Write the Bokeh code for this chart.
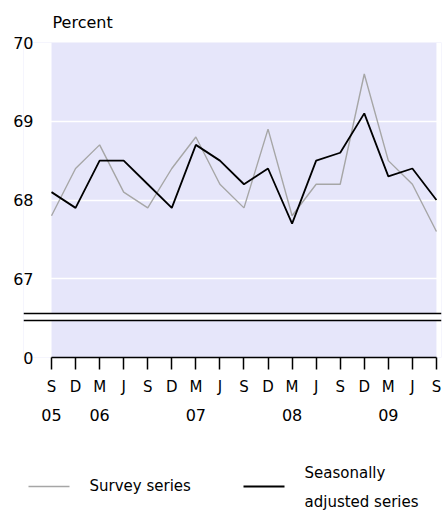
from bokeh.plotting import figure
from bokeh.layouts import column
from bokeh.models import FixedTicker, LinearAxis, Span, Range1d, BoxAnnotation
from bokeh.core.properties import value
from bokeh.embed import file_html
from bokeh.resources import INLINE

# ---- data ----
month_labels = ["S", "D", "M", "J", "S", "D", "M", "J", "S", "D", "M", "J", "S", "D", "M", "J", "S"]
year_ticks = [0, 2, 6, 10, 14]
year_labels = ["05", "06", "07", "08", "09"]
survey = [67.8, 68.4, 68.7, 68.1, 67.9, 68.4, 68.8, 68.2, 67.9, 68.9, 67.8, 68.2, 68.2, 69.6, 68.5, 68.2, 67.6]
seasonal = [68.1, 67.9, 68.5, 68.5, 68.2, 67.9, 68.7, 68.5, 68.2, 68.4, 67.7, 68.5, 68.6, 69.1, 68.3, 68.4, 68.0]
y_ticks = [66, 67, 68, 69, 70]
y_tick_labels = ["0", "67", "68", "69", "70"]
grid_values = [67, 68, 69]
break_low, break_high = 66.47, 66.56
series_names = ["Survey series", "Seasonally\nadjusted series"]

x = list(range(len(month_labels)))
FONT = "DejaVu Sans"
LAV = "#E6E6FA"
GRAY = "#A6A6A6"
colors = [GRAY, "black"]
widths = [1.4, 1.8]
BORDER_L, BORDER_R, W = 23, 3, 444

p = figure(width=W, height=430, output_backend="svg", toolbar_location=None,
           x_range=Range1d(-1.164, x[-1] + 0.21), y_range=Range1d(66.0, 70.0),
           min_border_left=BORDER_L, min_border_right=BORDER_R, min_border_top=41, min_border_bottom=73,
           background_fill_color=LAV, border_fill_color="white", outline_line_color=None)

p.title.text = "Percent"
p.title.text_font = FONT
p.title.text_font_size = "16px"
p.title.text_font_style = "normal"
p.title.text_color = "black"
p.title.align = "left"
p.title.offset = 29
p.title.standoff = 21

# white strips outside the data area
p.add_layout(BoxAnnotation(right=x[0], fill_color="white", fill_alpha=1, line_color=None, level="underlay"))
p.add_layout(BoxAnnotation(left=x[-1], fill_color="white", fill_alpha=1, line_color=None, level="underlay"))

p.xgrid.visible = False
p.ygrid.ticker = FixedTicker(ticks=grid_values)
p.ygrid.grid_line_color = "white"
p.ygrid.grid_line_width = 1.5

# axis break
p.add_layout(BoxAnnotation(bottom=break_low, top=break_high, fill_color="white", fill_alpha=1, line_color=None))
p.add_layout(Span(location=break_low, dimension="width", line_color="black", line_width=1.5))
p.add_layout(Span(location=break_high, dimension="width", line_color="black", line_width=1.5))

p.line(x, survey, line_color=colors[0], line_width=widths[0])
p.line(x, seasonal, line_color=colors[1], line_width=widths[1])

# y axis
ya = p.yaxis[0]
ya.ticker = FixedTicker(ticks=y_ticks)
ya.major_label_overrides = {t: l for t, l in zip(y_ticks, y_tick_labels)}
ya.axis_line_color = None
ya.major_tick_line_color = None
ya.minor_tick_line_color = None
ya.major_tick_out = 0
ya.major_tick_in = 0
ya.major_label_standoff = -10
ya.major_label_text_font = FONT
ya.major_label_text_font_size = "16px"
ya.major_label_text_color = "black"

# x axis (months)
xa = p.xaxis[0]
xa.ticker = FixedTicker(ticks=x)
xa.major_label_overrides = {t: l for t, l in zip(x, month_labels)}
xa.bounds = (x[0], x[-1])
xa.axis_line_color = "black"
xa.axis_line_width = 1.5
xa.major_tick_line_color = "black"
xa.major_tick_line_width = 1.5
xa.major_tick_out = 12
xa.major_tick_in = 0
xa.minor_tick_line_color = None
xa.major_label_standoff = 8
xa.major_label_text_font = FONT
xa.major_label_text_font_size = "15px"
xa.major_label_text_color = "black"

# x axis (years)
xa2 = LinearAxis(ticker=FixedTicker(ticks=year_ticks),
                 major_label_overrides={t: l for t, l in zip(year_ticks, year_labels)})
xa2.axis_line_color = None
xa2.major_tick_line_color = None
xa2.minor_tick_line_color = None
xa2.major_tick_out = 0
xa2.major_tick_in = 0
xa2.major_label_standoff = 10
xa2.major_label_text_font = FONT
xa2.major_label_text_font_size = "16px"
xa2.major_label_text_color = "black"
p.add_layout(xa2, "below")

# legend strip (pixel-unit coordinates for the key layout)
LG_H = 80
key_x0 = [28, 243]
key_len = 41
key_text_gap = 20
key_y = 24

lg = figure(width=W, height=LG_H, output_backend="svg", toolbar_location=None,
            x_range=Range1d(BORDER_L, W - BORDER_R), y_range=Range1d(0, LG_H),
            x_axis_location=None, y_axis_location=None,
            min_border_left=BORDER_L, min_border_right=BORDER_R, min_border_top=0, min_border_bottom=0,
            outline_line_color=None, background_fill_color="white")
lg.grid.visible = False
lg.segment(x0=key_x0, y0=[key_y] * 2, x1=[k + key_len for k in key_x0], y1=[key_y] * 2,
           line_color=colors, line_width=widths)
lg.text(x=[k + key_len + key_text_gap for k in key_x0], y=[key_y + 1, key_y - 1],
        text=series_names, text_font=value(FONT), text_font_size="15px",
        text_color="black", text_align="left", text_baseline="middle",
        text_line_height=1.6)

open("out.html", "w").write(file_html(column(p, lg, spacing=0), INLINE))
